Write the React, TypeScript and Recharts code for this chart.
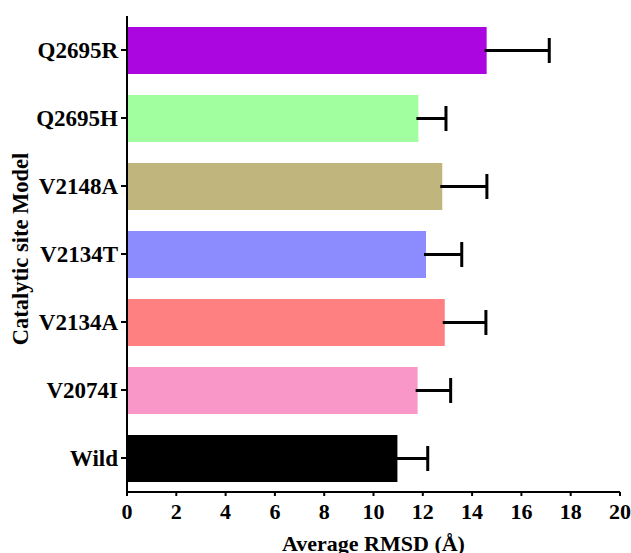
import React from 'react';
import { BarChart, Bar, XAxis, YAxis, Cell } from 'recharts';

const categories = ['Q2695R', 'Q2695H', 'V2148A', 'V2134T', 'V2134A', 'V2074I', 'Wild'];
const rmsd = [14.59, 11.82, 12.79, 12.13, 12.89, 11.79, 10.97];
const errors = [2.54, 1.12, 1.81, 1.45, 1.67, 1.34, 1.23];
const colors = ['#AC06E0', '#A2FFA0', '#C0B57C', '#8C8CFF', '#FF8080', '#F998C8', '#000000'];
const xTicks = [0, 2, 4, 6, 8, 10, 12, 14, 16, 18, 20];

const data = categories.map((name, i) => ({ name, value: rmsd[i], err: errors[i] }));

const FONT = '"Liberation Serif", "Times New Roman", serif';
const xTickStyle = { fill: '#000', fontSize: 22, fontWeight: 'bold', fontFamily: FONT };
const yTickStyle = { fill: '#000', fontSize: 23, fontWeight: 'bold', fontFamily: FONT };

function BarWithError(props: any) {
  const { x, y, width, height, fill, payload } = props;
  if (!payload || !width) return null;
  const pxPerUnit = width / payload.value;
  const errPx = payload.err * pxPerUnit;
  const cy = y + height / 2;
  const xEnd = x + width;
  return (
    <g>
      <rect x={x} y={y} width={width} height={height} fill={fill} />
      <line x1={xEnd - 2} x2={xEnd + errPx} y1={cy} y2={cy} stroke="#000" strokeWidth={3} />
      <line x1={xEnd + errPx} x2={xEnd + errPx} y1={cy - 12.5} y2={cy + 12.5} stroke="#000" strokeWidth={3} />
    </g>
  );
}

const XTitle = (p: any) => {
  const vb = p.viewBox || {};
  return (
    <text
      x={vb.x + vb.width / 2}
      y={vb.y + 59}
      textAnchor="middle"
      fill="#000"
      fontSize={22}
      fontWeight="bold"
      fontFamily={FONT}
    >
      Average RMSD (Å)
    </text>
  );
};

const YTitle = (p: any) => {
  const vb = p.viewBox || {};
  const cx = 12;
  const cy = vb.y + vb.height / 2 - 5;
  return (
    <text
      x={cx}
      y={cy}
      dy="0.35em"
      transform={`rotate(-90, ${cx}, ${cy})`}
      textAnchor="middle"
      fill="#000"
      fontSize={22.5}
      fontWeight="bold"
      fontFamily={FONT}
    >
      Catalytic site Model
    </text>
  );
};

export default function App() {
  return (
    <div style={{ position: 'absolute', top: 8, left: 8, width: 623, height: 545, overflow: 'hidden' }}>
      <BarChart
        width={623}
        height={545}
        data={data}
        layout="vertical"
        margin={{ top: 8, right: 11, bottom: 0, left: 0 }}
      >
        <XAxis
          type="number"
          domain={[0, 20]}
          ticks={xTicks}
          interval={0}
          height={61}
          tick={xTickStyle}
          tickSize={4}
          tickMargin={7}
          axisLine={{ stroke: '#000', strokeWidth: 2 }}
          tickLine={{ stroke: '#000', strokeWidth: 2 }}
          label={XTitle}
        />
        <YAxis
          type="category"
          dataKey="name"
          width={119}
          tick={yTickStyle}
          tickSize={6}
          tickMargin={3}
          interval={0}
          axisLine={{ stroke: '#000', strokeWidth: 2 }}
          tickLine={{ stroke: '#000', strokeWidth: 2 }}
          label={YTitle}
        />
        <Bar dataKey="value" barSize={47} isAnimationActive={false} shape={BarWithError}>
          {data.map((d, i) => (
            <Cell key={d.name} fill={colors[i]} />
          ))}
        </Bar>
      </BarChart>
    </div>
  );
}
